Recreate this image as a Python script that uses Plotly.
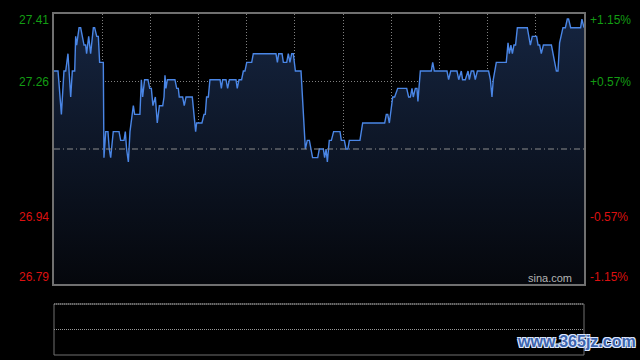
import plotly.graph_objects as go

# ---- data (minute index since open, price) ----
minutes = [0, 2.5, 4.6, 6.2, 7.3, 8.7, 10.4, 11.4, 12.9, 13.5, 14.1, 15.6, 16.6, 18.7, 19.7, 20.3,
           21.6, 22.8, 24.5, 25.3, 26.6, 27.6, 28.4, 30.7, 31.1, 32.2, 33.6, 34.4, 35.3, 36.9, 40.5,
           41.5, 43.6, 44.4, 45.2, 46.3, 47.3, 48.1, 49.4, 50.2, 53.5, 54.4, 55.2, 56.4, 58.5, 59.6,
           60.6, 61.6, 63.1, 64.3, 65.6, 67.7,
           68.5, 69.1, 69.7, 70.6, 71.2, 75.3, 76.4, 77.4, 78.0, 80.1, 81.1, 82.2, 86.1, 87.2, 88.2,
           88.8, 92.1, 93.4, 94.2, 95.0, 96.1, 97.1, 103.4, 104.2, 105.0, 107.1, 108.1, 109.2, 113.3,
           114.1, 115.2, 116.8, 117.9, 118.9, 120.0, 123.1, 124.1,
           138.2, 139.1, 139.9, 142.0, 142.8, 144.9, 145.9, 146.9, 148.0, 149.0, 150.3, 153.8, 156.5,
           157.7, 159.0, 160.0, 161.0, 164.2, 165.2, 167.7, 168.5, 169.4, 170.2, 171.4, 172.7, 174.1,
           178.1, 178.9, 180.8, 181.8, 183.0, 183.9, 190.5, 192.2,
           205.9, 206.9, 207.8, 208.8, 209.8, 210.9, 212.1, 214.0, 219.6, 220.8, 221.9, 222.9, 223.7,
           225.0, 226.0, 226.6, 228.1, 234.9, 235.8, 236.8, 244.7, 245.7, 247.0, 250.9, 252.0, 253.6,
           254.4, 256.1, 257.8, 258.6, 259.8, 261.3, 262.3, 263.6,
           270.6, 271.7, 272.7, 273.5, 275.4, 281.6, 282.7, 283.5, 284.5, 285.4, 286.4, 287.4, 288.5,
           294.7, 296.6, 297.8, 300.5, 301.4, 302.4, 303.4, 304.7, 309.7, 312.8, 313.8, 314.8, 316.9,
           318.4, 319.6, 320.4, 321.7, 327.9, 328.7, 330]
prices = [27.28, 27.28, 27.18, 27.28, 27.28, 27.32, 27.22, 27.28, 27.28, 27.36, 27.34, 27.38, 27.38,
          27.34, 27.34, 27.32, 27.36, 27.32, 27.38, 27.38, 27.36, 27.36, 27.30, 27.30, 27.08, 27.14,
          27.14, 27.10, 27.08, 27.14, 27.14, 27.12, 27.12, 27.14, 27.10, 27.07, 27.14, 27.16, 27.20,
          27.18, 27.18, 27.26, 27.22, 27.26, 27.26, 27.24, 27.24, 27.20, 27.22, 27.16, 27.20, 27.20,
          27.22, 27.27, 27.24, 27.26, 27.26, 27.26, 27.24, 27.24, 27.22, 27.22, 27.20, 27.22, 27.22,
          27.18, 27.14, 27.16, 27.16, 27.18, 27.18, 27.22, 27.22, 27.26, 27.26, 27.24, 27.26, 27.26,
          27.24, 27.26, 27.26, 27.24, 27.26, 27.26, 27.28, 27.28, 27.30, 27.30, 27.32,
          27.32, 27.30, 27.32, 27.32, 27.30, 27.30, 27.32, 27.30, 27.32, 27.32, 27.28, 27.28, 27.10,
          27.12, 27.12, 27.10, 27.08, 27.08, 27.10, 27.10, 27.08, 27.10, 27.07, 27.12, 27.12, 27.14,
          27.14, 27.12, 27.12, 27.10, 27.10, 27.12, 27.12, 27.16,
          27.16, 27.18, 27.18, 27.16, 27.19, 27.22, 27.22, 27.24, 27.24, 27.22, 27.22, 27.24, 27.22,
          27.24, 27.24, 27.21, 27.28, 27.28, 27.30, 27.28, 27.28, 27.26, 27.28, 27.28, 27.26, 27.28,
          27.26, 27.26, 27.28, 27.26, 27.28, 27.28, 27.26, 27.28,
          27.28, 27.26, 27.22, 27.26, 27.30, 27.30, 27.345, 27.32, 27.34, 27.32, 27.34, 27.34, 27.38,
          27.38, 27.34, 27.36, 27.36, 27.34, 27.34, 27.32, 27.34, 27.34, 27.28, 27.28, 27.345, 27.38,
          27.38, 27.40, 27.40, 27.38, 27.38, 27.40, 27.38]

prev_close = 27.10
pct_max = 1.15
price_ticks = [27.41, 27.26, 26.94, 26.79]
pct_labels = ["+1.15%", "+0.57%", "-0.57%", "-1.15%"]
grid_minutes = [30, 60, 90, 120, 150, 180, 210, 240, 270, 300]

ymax = prev_close * (1 + pct_max / 100)
ymin = prev_close * (1 - pct_max / 100)
yq_hi = prev_close + (ymax - prev_close) / 2
yq_lo = prev_close - (ymax - prev_close) / 2

GREEN = "#139c13"
RED = "#dc1010"
GRID = "#808080"
FRAME = "#707070"

fig = go.Figure()
fig.add_trace(go.Scatter(
    x=minutes, y=prices, mode="lines",
    line=dict(color="#4a86e6", width=1.4),
    fill="tozeroy",
    fillgradient=dict(type="vertical", start=ymin, stop=max(prices),
                      colorscale=[[0, "#05070c"], [1, "#15243f"]]),
    hoverinfo="skip", showlegend=False))

main_bottom = (355 - 284) / 341

fig.update_layout(
    width=640, height=360,
    margin=dict(l=54, r=56, t=14, b=5),
    paper_bgcolor="#000000", plot_bgcolor="#000000",
    font=dict(family="Arial, Liberation Sans, sans-serif"),
    xaxis=dict(range=[0, 330], tickvals=grid_minutes, showticklabels=False, ticks="",
               showgrid=True, gridcolor=GRID, griddash="1px,2px", gridwidth=1,
               showline=True, linecolor=FRAME, linewidth=1.5, mirror=True, zeroline=False),
    yaxis=dict(range=[ymin, ymax], domain=[main_bottom, 1], tickvals=[yq_hi, yq_lo],
               showticklabels=False, ticks="",
               showgrid=True, gridcolor=GRID, griddash="1px,2px", gridwidth=1,
               showline=True, linecolor=FRAME, linewidth=1.5, mirror=True, zeroline=False),
)

# previous close dash-dot line
fig.add_shape(type="line", xref="x", yref="y", x0=0, x1=330, y0=prev_close, y1=prev_close,
              line=dict(color="#8c8c8c", width=1, dash="6px,3px,1px,3px"))

# left price labels and right percent labels
label_y = [ymax, yq_hi, yq_lo, ymin]
shifts = [-6, 0, 0, 7]
for i, (v, t) in enumerate(zip(price_ticks, pct_labels)):
    col = GREEN if i < 2 else RED
    fig.add_annotation(x=0, xref="paper", xanchor="right", xshift=-3, y=label_y[i], yref="y",
                       yshift=shifts[i], text=f"{v:.2f}", showarrow=False,
                       font=dict(size=12, color=col))
    fig.add_annotation(x=1, xref="paper", xanchor="left", xshift=4, y=label_y[i], yref="y",
                       yshift=shifts[i], text=t, showarrow=False,
                       font=dict(size=12, color=col))

fig.add_annotation(x=1, xref="paper", xanchor="right", xshift=-10, y=ymin, yref="y", yshift=6,
                   text="sina.com", showarrow=False, font=dict(size=11, color="#b4b4b4"))

# volume panel (empty)
vol_top = (355 - 304) / 341
vol_mid = (355 - 329.5) / 341
fig.add_shape(type="rect", xref="paper", yref="paper", x0=0, x1=1, y0=0, y1=vol_top,
              line=dict(color=FRAME, width=1))
fig.add_shape(type="line", xref="paper", yref="paper", x0=0, x1=1, y0=vol_top, y1=vol_top,
              line=dict(color="#9a9a9a", width=1, dash="1px,1px"))
fig.add_shape(type="line", xref="paper", yref="paper", x0=0, x1=1, y0=vol_mid, y1=vol_mid,
              line=dict(color="#9a9a9a", width=1, dash="1px,1px"))

# watermark
fig.add_annotation(x=1.0, xref="paper", xanchor="left", xshift=-69, y=0, yref="paper", yanchor="bottom",
                   yshift=3, text="<b>www.365jz.com</b>", showarrow=False,
                   font=dict(size=16, color="#3d64ad",
                             shadow="1px 1px 0 #dde8ff, -1px -1px 0 #dde8ff, 1px -1px 0 #dde8ff, -1px 1px 0 #dde8ff"))

fig.write_html("out.html")
